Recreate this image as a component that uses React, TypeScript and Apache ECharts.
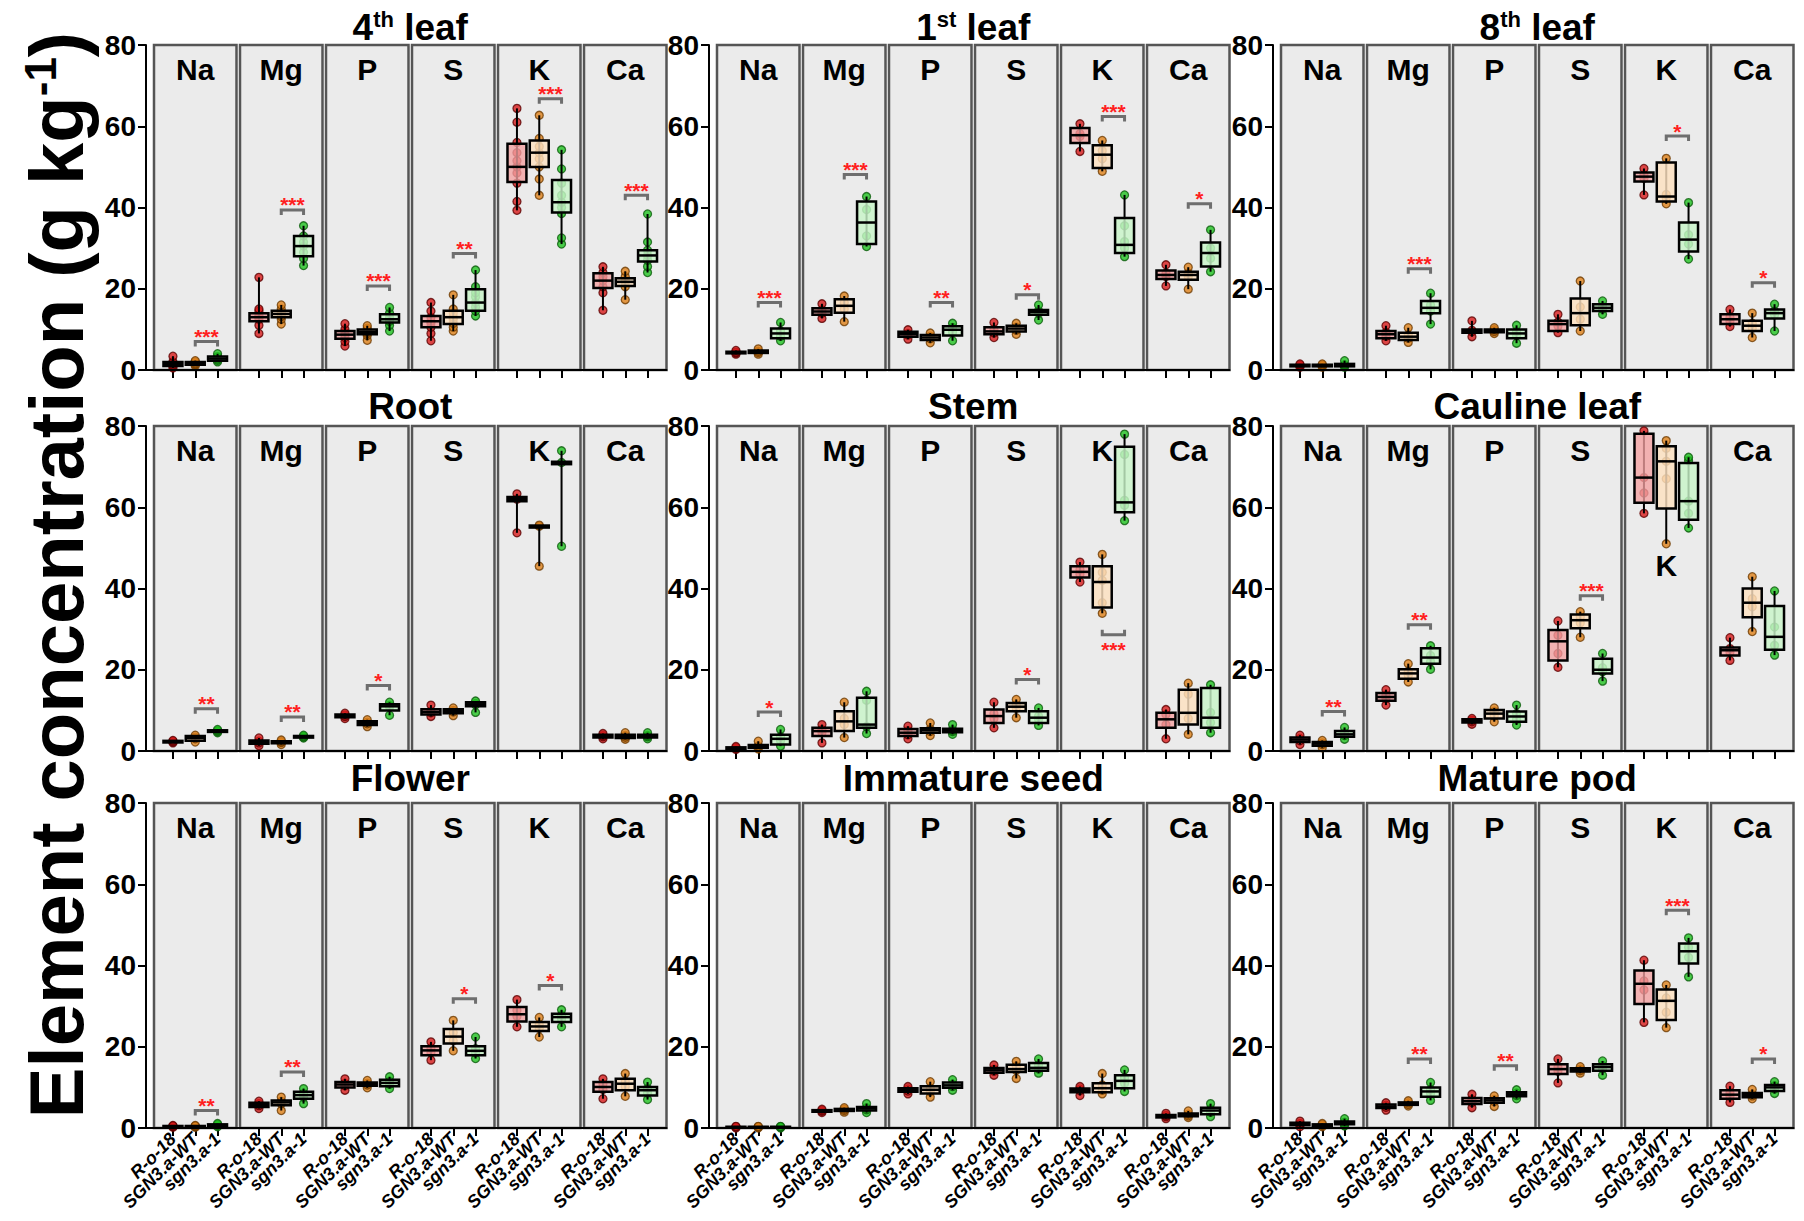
import React, { useEffect, useRef } from 'react';
import * as echarts from 'echarts';

const ELEMENTS = ['Na', 'Mg', 'P', 'S', 'K', 'Ca'];
const GENOTYPES = ['R-o-18', 'SGN3.a-WT', 'sgn3.a-1'];
const TISSUES = ['4{sup|th} leaf', '1{sup|st} leaf', '8{sup|th} leaf', 'Root', 'Stem', 'Cauline leaf', 'Flower', 'Immature seed', 'Mature pod'];
const Y_MIN = 0;
const Y_MAX = 80;
const Y_STEP = 20;
const Y_TITLE = 'Element concentration (g kg{sup|-1})';

// box stats: [element][genotype] = [min, q1, median, q3, max]
const leaf4Box = [
  [[0.5, 1.0, 1.5, 2.0, 3.4], [1.0, 1.3, 1.6, 2.0, 2.3], [2.0, 2.3, 2.8, 3.3, 4.0]],
  [[9.0, 12.0, 13.0, 14.0, 22.8], [11.3, 13.0, 13.8, 14.6, 16.0], [25.7, 28.0, 30.5, 33.0, 35.5]],
  [[5.9, 7.7, 8.7, 9.6, 11.4], [7.3, 8.8, 9.4, 10.0, 10.9], [9.6, 11.7, 12.5, 13.7, 15.4]],
  [[7.2, 10.5, 12.0, 13.3, 16.6], [9.6, 11.3, 13.0, 14.6, 18.5], [13.3, 14.6, 16.6, 19.9, 24.6]],
  [[39.3, 46.3, 50.0, 55.7, 64.4], [43.0, 50.0, 53.5, 56.5, 62.7], [31.0, 38.8, 41.3, 46.8, 54.2]],
  [[14.7, 20.2, 22.0, 23.8, 25.4], [17.3, 20.7, 21.7, 22.6, 24.3], [24.0, 26.7, 28.2, 29.5, 38.4]],
];
const leaf4Pts = [
  [[0.5, 0.9, 1.2, 1.5, 1.8, 2.0, 3.4], [1.0, 1.3, 1.5, 1.7, 2.0, 2.3], [2.0, 2.4, 2.7, 3.0, 3.3, 4.0]],
  [[9.0, 11.0, 12.5, 13.0, 13.5, 14.5, 15.0, 22.8], [11.3, 12.5, 13.2, 13.8, 14.3, 15.0, 16.0], [25.7, 27.5, 29.0, 30.5, 31.5, 33.0, 35.5]],
  [[5.9, 7.0, 8.0, 8.7, 9.3, 10.0, 11.4], [7.3, 8.5, 9.0, 9.4, 9.8, 10.3, 10.9], [9.6, 11.0, 12.0, 12.5, 13.0, 14.0, 15.4]],
  [[7.2, 9.0, 10.5, 11.5, 12.0, 13.0, 14.5, 16.6], [9.6, 10.5, 11.5, 12.5, 13.0, 14.0, 15.0, 18.5], [13.3, 14.5, 15.5, 16.6, 18.0, 19.0, 20.5, 24.6]],
  [[39.3, 41.5, 46.0, 48.5, 50.0, 51.5, 53.5, 56.0, 61.0, 64.4], [43.0, 47.0, 50.0, 52.0, 53.5, 55.0, 57.0, 62.7], [31.0, 32.5, 38.5, 40.0, 41.3, 43.0, 46.0, 49.5, 54.2]],
  [[14.7, 19.0, 20.5, 22.0, 23.0, 24.0, 25.4], [17.3, 20.5, 21.5, 22.0, 23.0, 24.3], [24.0, 25.5, 27.0, 28.2, 29.5, 31.5, 38.4]],
];
const leaf4Sig = [[0, '***', 7.0, 0], [1, '***', 39.4, 0], [2, '***', 20.7, 0], [3, '**', 28.7, 0], [4, '***', 66.8, 0], [5, '***', 43.0, 0]];

const leaf1Box = [
  [[3.9, 4.1, 4.3, 4.5, 4.8], [3.9, 4.2, 4.5, 4.8, 5.2], [7.2, 7.8, 9.0, 10.2, 11.7]],
  [[12.7, 13.6, 14.4, 15.2, 16.3], [11.9, 14.1, 15.8, 17.4, 18.2], [30.4, 31.0, 36.3, 41.5, 42.7]],
  [[7.6, 8.2, 8.8, 9.4, 9.9], [6.7, 7.4, 8.0, 8.6, 9.1], [7.2, 8.5, 9.9, 10.8, 11.5]],
  [[8.0, 8.8, 9.5, 10.5, 11.7], [8.8, 9.5, 10.2, 10.9, 11.5], [12.3, 13.6, 14.3, 14.8, 16.0]],
  [[53.8, 55.9, 57.8, 59.6, 60.6], [48.9, 49.7, 53.0, 55.3, 56.5], [27.9, 28.8, 30.8, 37.4, 43.1]],
  [[20.7, 22.4, 23.4, 24.5, 25.9], [19.9, 22.2, 23.4, 24.2, 25.3], [24.2, 25.5, 28.8, 31.4, 34.5]],
];
const leaf1Pts = [
  [[3.9, 4.2, 4.4, 4.8], [3.9, 4.3, 4.6, 5.2], [7.2, 8.3, 9.6, 11.7]],
  [[12.7, 14.0, 14.8, 16.3], [11.9, 15.0, 16.6, 18.2], [30.4, 33.0, 39.5, 42.7]],
  [[7.6, 8.6, 9.0, 9.9], [6.7, 7.7, 8.3, 9.1], [7.2, 9.3, 10.5, 11.5]],
  [[8.0, 9.1, 9.9, 11.7], [8.8, 9.8, 10.6, 11.5], [12.3, 14.0, 14.6, 16.0]],
  [[53.8, 57.5, 58.2, 60.6], [48.9, 52.0, 54.0, 56.5], [27.9, 30.0, 31.6, 35.5, 43.1]],
  [[20.7, 23.0, 23.8, 25.9], [19.9, 23.0, 23.8, 25.3], [24.2, 27.5, 30.0, 34.5]],
];
const leaf1Sig = [[0, '***', 16.6, 0], [1, '***', 48.1, 0], [2, '**', 16.6, 0], [3, '*', 18.5, 0], [4, '***', 62.4, 0], [5, '*', 40.9, 0]];

const leaf8Box = [
  [[0.7, 0.9, 1.1, 1.3, 1.5], [0.7, 0.9, 1.1, 1.3, 1.5], [0.7, 0.9, 1.2, 1.5, 2.3]],
  [[7.2, 7.8, 8.8, 9.6, 10.9], [6.8, 7.4, 8.2, 9.2, 10.4], [11.3, 14.0, 15.3, 17.0, 18.9]],
  [[8.2, 9.2, 9.6, 10.0, 12.1], [9.0, 9.3, 9.7, 10.0, 10.4], [6.6, 7.8, 9.0, 10.0, 11.0]],
  [[9.2, 9.6, 11.3, 12.1, 13.7], [9.6, 11.0, 14.0, 17.6, 21.9], [13.7, 14.5, 15.3, 16.2, 17.0]],
  [[43.1, 46.4, 47.6, 48.6, 49.6], [40.9, 41.5, 42.7, 51.1, 52.1], [27.3, 29.2, 32.1, 36.3, 41.2]],
  [[10.7, 11.3, 12.5, 13.7, 14.9], [8.0, 9.6, 10.9, 12.1, 14.0], [9.6, 12.7, 14.0, 14.9, 16.2]],
];
const leaf8Pts = [
  [[0.7, 1.0, 1.2, 1.5], [0.7, 1.0, 1.2, 1.5], [0.7, 1.0, 1.3, 2.3]],
  [[7.2, 8.3, 9.3, 10.9], [6.8, 7.8, 8.6, 10.4], [11.3, 14.5, 16.0, 18.9]],
  [[8.2, 9.4, 9.8, 12.1], [9.0, 9.5, 9.9, 10.4], [6.6, 8.5, 9.5, 11.0]],
  [[9.2, 10.8, 11.8, 13.7], [9.6, 12.5, 15.5, 21.9], [13.7, 15.0, 15.6, 17.0]],
  [[43.1, 47.2, 48.0, 49.6], [40.9, 42.3, 43.2, 52.1], [27.3, 31.0, 33.3, 41.2]],
  [[10.7, 12.0, 13.0, 14.9], [8.0, 10.3, 11.5, 14.0], [9.6, 13.6, 14.5, 16.2]],
];
const leaf8Sig = [[1, '***', 24.9, 0], [4, '*', 57.6, 0], [5, '*', 21.5, 0]];

const rootBox = [
  [[2.0, 2.1, 2.3, 2.5, 2.6], [2.2, 2.5, 3.2, 3.7, 3.9], [4.5, 4.7, 4.9, 5.1, 5.3]],
  [[1.3, 1.8, 2.2, 2.6, 3.2], [1.6, 1.9, 2.2, 2.4, 2.7], [3.2, 3.3, 3.5, 3.7, 3.9]],
  [[8.0, 8.3, 8.7, 9.0, 9.3], [6.0, 6.4, 6.9, 7.3, 7.7], [8.8, 10.0, 11.0, 11.5, 12.0]],
  [[8.5, 9.0, 9.6, 10.3, 11.3], [8.7, 9.3, 9.8, 10.3, 10.6], [9.5, 11.0, 11.5, 12.0, 12.3]],
  [[53.7, 61.5, 62.0, 62.5, 63.3], [45.5, 55.0, 55.3, 55.5, 55.6], [50.4, 70.6, 71.0, 71.2, 73.9]],
  [[3.0, 3.3, 3.6, 4.0, 4.3], [2.9, 3.2, 3.6, 4.0, 4.5], [3.0, 3.3, 3.6, 4.0, 4.5]],
];
const rootPts = [
  [[2.0, 2.2, 2.4, 2.6], [2.2, 3.0, 3.4, 3.9], [4.5, 4.8, 5.0, 5.3]],
  [[1.3, 2.0, 2.4, 3.2], [1.6, 2.1, 2.3, 2.7], [3.2, 3.4, 3.6, 3.9]],
  [[8.0, 8.5, 8.9, 9.3], [6.0, 6.7, 7.1, 7.7], [8.8, 10.8, 11.2, 12.0]],
  [[8.5, 9.4, 9.8, 11.3], [8.7, 9.6, 10.0, 10.6], [9.5, 11.3, 11.7, 12.3]],
  [[53.7, 62.0, 63.3], [45.5, 55.3, 55.6], [50.4, 71.0, 73.9]],
  [[3.0, 3.5, 3.8, 4.3], [2.9, 3.4, 3.8, 4.5], [3.0, 3.5, 3.8, 4.5]],
];
const rootSig = [[0, '**', 10.4, 0], [1, '**', 8.4, 0], [2, '*', 16.1, 0]];

const stemBox = [
  [[0.4, 0.5, 0.7, 0.9, 1.1], [0.5, 0.8, 1.1, 1.5, 2.4], [1.2, 1.6, 3.0, 4.0, 5.3]],
  [[2.0, 3.7, 4.9, 5.7, 6.5], [3.3, 4.9, 7.3, 9.8, 12.0], [4.3, 5.7, 6.5, 13.1, 14.7]],
  [[3.0, 3.7, 4.5, 5.4, 6.1], [3.8, 4.5, 5.1, 5.6, 6.9], [4.1, 4.6, 5.0, 5.5, 6.5]],
  [[5.7, 6.9, 8.6, 10.2, 12.0], [8.2, 9.8, 10.9, 11.8, 12.7], [6.3, 6.9, 8.2, 9.8, 10.6]],
  [[41.6, 42.7, 44.1, 45.5, 46.5], [33.9, 35.3, 41.6, 45.5, 48.4], [56.7, 58.8, 61.2, 74.9, 78.0]],
  [[3.0, 5.7, 7.8, 9.4, 10.2], [4.1, 6.5, 9.4, 15.1, 16.7], [4.5, 5.7, 8.2, 15.5, 16.3]],
];
const stemPts = [
  [[0.4, 0.6, 0.8, 1.1], [0.5, 1.0, 1.2, 2.4], [1.2, 2.5, 3.5, 5.3]],
  [[2.0, 4.5, 5.3, 6.5], [3.3, 6.5, 8.0, 12.0], [4.3, 6.0, 12.5, 14.7]],
  [[3.0, 4.0, 5.0, 6.1], [3.8, 4.8, 5.4, 6.9], [4.1, 4.8, 5.2, 6.5]],
  [[5.7, 8.0, 9.2, 12.0], [8.2, 10.5, 11.3, 12.7], [6.3, 7.8, 8.6, 10.6]],
  [[41.6, 43.5, 44.7, 46.5], [33.9, 36.5, 42.0, 44.0, 48.4], [56.7, 60.5, 61.7, 73.0, 78.0]],
  [[3.0, 6.5, 9.0, 10.2], [4.1, 8.0, 14.0, 16.7], [4.5, 7.0, 9.5, 16.3]],
];
const stemSig = [[0, '*', 9.6, 0], [3, '*', 17.6, 0], [4, '***', 28.6, 1]];

const caulineBox = [
  [[1.6, 2.2, 2.8, 3.3, 3.9], [0.8, 1.3, 1.8, 2.2, 2.6], [2.9, 3.5, 4.1, 4.9, 5.8]],
  [[11.3, 12.4, 13.3, 14.3, 15.1], [17.0, 17.8, 19.1, 20.1, 21.5], [20.1, 21.5, 23.0, 25.3, 25.9]],
  [[6.6, 7.0, 7.4, 7.8, 8.0], [7.2, 8.0, 9.2, 10.1, 10.6], [6.4, 7.2, 8.5, 9.7, 11.3]],
  [[20.6, 22.3, 27.0, 29.8, 32.0], [28.0, 30.2, 32.2, 33.6, 34.3], [17.2, 19.1, 20.0, 22.7, 24.0]],
  [[58.5, 61.1, 67.3, 78.1, 78.8], [51.0, 59.7, 71.3, 75.0, 76.4], [54.9, 56.9, 61.5, 70.9, 72.3]],
  [[22.3, 23.5, 24.8, 25.5, 27.9], [29.4, 32.9, 36.5, 40.0, 42.9], [23.6, 24.9, 28.1, 35.7, 39.4]],
];
const caulinePts = [
  [[1.6, 2.5, 3.1, 3.9], [0.8, 1.6, 2.0, 2.6], [2.9, 3.8, 4.4, 5.8]],
  [[11.3, 12.9, 13.7, 15.1], [17.0, 18.6, 19.6, 21.5], [20.1, 22.0, 23.5, 25.9]],
  [[6.6, 7.2, 7.6, 8.0], [7.2, 8.6, 9.8, 10.6], [6.4, 7.8, 9.2, 11.3]],
  [[20.6, 24.0, 28.5, 32.0], [28.0, 31.5, 33.0, 34.3], [17.2, 19.5, 20.5, 24.0]],
  [[58.5, 63.5, 67.3, 78.8], [51.0, 67.0, 71.3, 74.5, 76.4], [54.9, 58.5, 61.5, 71.5, 72.3]],
  [[22.3, 24.3, 25.2, 27.9], [29.4, 35.5, 37.5, 42.9], [23.6, 26.0, 30.5, 39.4]],
];
const caulineSig = [[0, '**', 9.7, 0], [1, '**', 31.1, 0], [3, '***', 38.2, 0]];

const flowerBox = [
  [[0.2, 0.3, 0.4, 0.5, 0.6], [0.2, 0.3, 0.4, 0.5, 0.6], [0.3, 0.5, 0.7, 0.9, 1.1]],
  [[4.8, 5.2, 5.7, 6.2, 6.6], [4.3, 5.6, 6.3, 6.8, 7.6], [6.0, 7.2, 8.1, 8.9, 9.7]],
  [[9.3, 10.0, 10.7, 11.3, 12.1], [9.9, 10.4, 10.8, 11.2, 11.7], [9.7, 10.3, 11.1, 11.9, 12.6]],
  [[16.7, 17.9, 19.1, 20.1, 21.2], [19.0, 20.8, 22.5, 24.4, 26.5], [17.1, 17.9, 19.0, 20.1, 22.4]],
  [[24.9, 26.2, 28.0, 29.8, 31.6], [22.4, 23.9, 25.0, 26.1, 27.2], [24.9, 26.1, 27.3, 28.1, 29.1]],
  [[7.2, 8.9, 10.1, 11.3, 12.1], [7.8, 9.3, 10.9, 12.1, 13.4], [7.0, 8.0, 9.3, 10.1, 11.3]],
];
const flowerPts = [
  [[0.2, 0.4, 0.5, 0.6], [0.2, 0.4, 0.5, 0.6], [0.3, 0.6, 0.8, 1.1]],
  [[4.8, 5.5, 6.0, 6.6], [4.3, 6.0, 6.6, 7.6], [6.0, 7.6, 8.5, 9.7]],
  [[9.3, 10.4, 11.0, 12.1], [9.9, 10.6, 11.0, 11.7], [9.7, 10.8, 11.5, 12.6]],
  [[16.7, 18.5, 19.7, 21.2], [19.0, 21.5, 23.5, 26.5], [17.1, 18.5, 19.5, 22.4]],
  [[24.9, 27.5, 29.0, 31.6], [22.4, 24.5, 25.5, 27.2], [24.9, 26.8, 27.8, 29.1]],
  [[7.2, 9.5, 10.8, 12.1], [7.8, 10.2, 11.5, 13.4], [7.0, 8.6, 9.8, 11.3]],
];
const flowerSig = [[0, '**', 4.3, 0], [1, '**', 13.8, 0], [3, '*', 31.8, 0], [4, '*', 35.1, 0]];

const seedBox = [
  [[0.0, 0.1, 0.2, 0.3, 0.4], [0.0, 0.1, 0.2, 0.3, 0.4], [0.0, 0.1, 0.2, 0.3, 0.4]],
  [[3.8, 4.0, 4.2, 4.4, 4.6], [3.9, 4.2, 4.4, 4.7, 5.0], [3.8, 4.3, 4.8, 5.2, 6.0]],
  [[8.4, 8.9, 9.3, 9.8, 10.2], [7.6, 8.5, 9.4, 10.3, 11.4], [9.3, 9.9, 10.5, 11.2, 11.9]],
  [[13.0, 13.6, 14.2, 14.8, 15.5], [12.2, 13.8, 14.5, 15.6, 16.4], [13.5, 14.1, 14.8, 16.0, 17.0]],
  [[8.0, 8.8, 9.4, 9.7, 10.2], [8.4, 8.8, 9.8, 11.0, 13.4], [9.0, 9.8, 11.6, 13.0, 14.3]],
  [[2.3, 2.6, 2.9, 3.2, 3.6], [2.6, 2.9, 3.2, 3.6, 4.2], [2.8, 3.4, 4.3, 5.0, 6.0]],
];
const seedPts = [
  [[0.0, 0.2, 0.3, 0.4], [0.0, 0.2, 0.3, 0.4], [0.0, 0.2, 0.3, 0.4]],
  [[3.8, 4.1, 4.3, 4.6], [3.9, 4.3, 4.6, 5.0], [3.8, 4.5, 5.0, 6.0]],
  [[8.4, 9.1, 9.6, 10.2], [7.6, 9.0, 9.8, 11.4], [9.3, 10.2, 10.8, 11.9]],
  [[13.0, 14.0, 14.5, 15.5], [12.2, 14.2, 15.2, 16.4], [13.5, 14.5, 15.5, 17.0]],
  [[8.0, 9.2, 9.6, 10.2], [8.4, 9.3, 10.6, 13.4], [9.0, 11.0, 12.3, 14.3]],
  [[2.3, 2.8, 3.1, 3.6], [2.6, 3.0, 3.4, 4.2], [2.8, 3.9, 4.7, 6.0]],
];
const seedSig: any[] = [];

const podBox = [
  [[0.3, 0.7, 1.0, 1.3, 1.7], [0.3, 0.5, 0.7, 0.9, 1.1], [0.5, 0.9, 1.2, 1.6, 2.3]],
  [[4.4, 4.9, 5.3, 5.8, 6.2], [5.4, 5.7, 6.0, 6.3, 6.7], [6.8, 7.7, 9.0, 10.0, 11.2]],
  [[5.0, 5.9, 6.6, 7.4, 8.3], [5.3, 6.2, 6.8, 7.3, 7.9], [7.2, 7.8, 8.3, 8.8, 9.4]],
  [[11.1, 13.3, 14.5, 15.7, 17.0], [13.5, 13.9, 14.3, 14.7, 15.1], [13.0, 14.1, 15.0, 15.7, 16.5]],
  [[26.0, 30.5, 35.5, 38.8, 41.3], [24.7, 26.6, 31.3, 34.1, 35.2], [37.2, 40.5, 43.5, 45.4, 46.8]],
  [[6.3, 7.2, 8.2, 9.3, 10.3], [7.2, 7.6, 8.1, 8.6, 9.5], [8.5, 9.1, 10.0, 10.6, 11.4]],
];
const podPts = [
  [[0.3, 0.9, 1.1, 1.7], [0.3, 0.6, 0.8, 1.1], [0.5, 1.0, 1.4, 2.3]],
  [[4.4, 5.1, 5.6, 6.2], [5.4, 5.8, 6.2, 6.7], [6.8, 8.5, 9.5, 11.2]],
  [[5.0, 6.3, 7.0, 8.3], [5.3, 6.5, 7.0, 7.9], [7.2, 8.0, 8.6, 9.4]],
  [[11.1, 14.0, 15.0, 17.0], [13.5, 14.1, 14.5, 15.1], [13.0, 14.6, 15.4, 16.5]],
  [[26.0, 34.0, 36.2, 41.3], [24.7, 28.5, 32.0, 35.2], [37.2, 42.0, 44.5, 46.8]],
  [[6.3, 7.8, 8.7, 10.3], [7.2, 7.9, 8.3, 9.5], [8.5, 9.6, 10.4, 11.4]],
];
const podSig = [[1, '**', 17.0, 0], [2, '**', 15.3, 0], [4, '***', 53.6, 0], [5, '*', 17.0, 0]];

// element label placed at a data value instead of the panel top: [tissue, element, value]
const LABEL_AT = [[5, 4, 45.6]];

const TISSUE_BOX = [leaf4Box, leaf1Box, leaf8Box, rootBox, stemBox, caulineBox, flowerBox, seedBox, podBox];
const TISSUE_PTS = [leaf4Pts, leaf1Pts, leaf8Pts, rootPts, stemPts, caulinePts, flowerPts, seedPts, podPts];
const TISSUE_SIG = [leaf4Sig, leaf1Sig, leaf8Sig, rootSig, stemSig, caulineSig, flowerSig, seedSig, podSig];

// layout / style
const FONT = "'Liberation Sans', Arial, Helvetica, sans-serif";
const PANEL_X = [154, 717, 1281];
const ROW_Y = [45, 426, 803];
const TITLE_Y = [27, 406, 778];
const ROW_H = 325;
const SUB_W = 82.5;
const SUB_STEP = 86;
const PANEL_W = SUB_STEP * 5 + SUB_W;
const X_MIN = -0.85;
const X_MAX = 2.85;
const BOX_W = 0.85;
const PT_FILL = ['#d81b1b', '#e0821a', '#22c422'];
const PT_EDGE = ['#5c0000', '#6e3b00', '#0b5c0b'];
const BOX_FILL = ['rgba(244,160,160,0.78)', 'rgba(253,224,192,0.82)', 'rgba(200,244,200,0.82)'];

export default function App() {
  const ref = useRef<HTMLDivElement>(null);
  useEffect(() => {
    const chart = echarts.init(ref.current!, null, { renderer: 'svg' });
    const grid: any[] = [];
    const xAxis: any[] = [];
    const yAxis: any[] = [];
    const series: any[] = [];
    const graphic: any[] = [];

    graphic.push({
      type: 'text', x: 56, y: 575, rotation: Math.PI / 2, z: 10,
      style: {
        legacy: false, text: Y_TITLE, fill: '#000', fontSize: 76, fontWeight: 'bold', fontFamily: FONT,
        align: 'center', verticalAlign: 'middle',
        rich: { sup: { fontSize: 44, fontWeight: 'bold', fontFamily: FONT, fill: '#000', verticalAlign: 'top' } },
      },
    });

    TISSUES.forEach((tname, ti) => {
      const col = ti % 3;
      const row = Math.floor(ti / 3);
      const px = PANEL_X[col];
      const py = ROW_Y[row];
      const boxes = TISSUE_BOX[ti];
      const pts = TISSUE_PTS[ti];
      const sigs = TISSUE_SIG[ti];

      graphic.push({
        type: 'text', x: px + PANEL_W / 2, y: TITLE_Y[row], z: 10,
        style: {
          legacy: false, text: tname, fill: '#000', fontSize: 37, fontWeight: 'bold', fontFamily: FONT,
          align: 'center', verticalAlign: 'middle',
          rich: { sup: { fontSize: 22, fontWeight: 'bold', fontFamily: FONT, fill: '#000', verticalAlign: 'top' } },
        },
      });

      // frame grid holding the shared y axis and base line
      const fi = grid.length;
      grid.push({ left: px - 8, top: py, width: PANEL_W + 8, height: ROW_H, show: false });
      xAxis.push({
        gridIndex: fi, type: 'value', min: 0, max: 1, z: 5,
        axisLine: { show: true, onZero: false, lineStyle: { color: '#000', width: 2 } },
        axisTick: { show: false }, axisLabel: { show: false }, splitLine: { show: false },
      });
      yAxis.push({
        gridIndex: fi, type: 'value', min: Y_MIN, max: Y_MAX, interval: Y_STEP, z: 5,
        axisLine: { show: true, lineStyle: { color: '#000', width: 2 } },
        axisTick: { show: true, length: 8, lineStyle: { color: '#000', width: 2 } },
        axisLabel: { show: true, margin: 10, fontSize: 28, fontWeight: 'bold', fontFamily: FONT, color: '#000' },
        splitLine: { show: false },
      });

      ELEMENTS.forEach((el, ei) => {
        const gi = grid.length;
        const left = px + ei * SUB_STEP;
        grid.push({
          left, top: py, width: SUB_W, height: ROW_H, show: true,
          backgroundColor: '#ebebeb', borderColor: '#555555', borderWidth: 2.5,
        });
        const mainX = xAxis.length;
        xAxis.push({
          gridIndex: gi, type: 'value', min: X_MIN, max: X_MAX, position: 'bottom',
          axisLine: { show: false }, splitLine: { show: false },
          axisTick: { show: true, customValues: [0, 1, 2], length: 8, lineStyle: { color: '#000', width: 2 } },
          axisLabel: { show: false },
        });
        // one label axis per genotype on the bottom row (keeps every rotated label visible)
        if (row === 2) {
          GENOTYPES.forEach((gname, g) => {
            xAxis.push({
              gridIndex: gi, type: 'value', min: X_MIN, max: X_MAX, position: 'bottom',
              axisLine: { show: false }, splitLine: { show: false }, axisTick: { show: false },
              axisLabel: {
                show: true, customValues: [g], rotate: 45, margin: 8,
                showMinLabel: true, showMaxLabel: true,
                formatter: () => gname,
                fontSize: 18, fontWeight: 'bold', fontStyle: 'italic', fontFamily: FONT, color: '#000',
              },
            });
          });
        }
        const yi = yAxis.length;
        yAxis.push({ gridIndex: gi, type: 'value', min: Y_MIN, max: Y_MAX, show: false, splitLine: { show: false } });

        const override = LABEL_AT.find((l) => l[0] === ti && l[1] === ei);
        const labelY = override ? py + ((Y_MAX - override[2]) / (Y_MAX - Y_MIN)) * ROW_H : py + 24;
        graphic.push({
          type: 'text', x: left + SUB_W / 2, y: labelY, z: 10,
          style: {
            legacy: false, text: el, fill: '#000', fontSize: 30, fontWeight: 'bold', fontFamily: FONT,
            align: 'center', verticalAlign: 'middle', lineHeight: 26,
          },
        });

        const scatterData: any[] = [];
        [0, 1, 2].forEach((g) => {
          pts[ei][g].forEach((v: number) => {
            scatterData.push({ value: [g, v], itemStyle: { color: PT_FILL[g], borderColor: PT_EDGE[g], borderWidth: 1.3 } });
          });
        });
        series.push({
          type: 'scatter', xAxisIndex: mainX, yAxisIndex: yi, symbolSize: 8, silent: true, z: 2,
          data: scatterData,
        });

        series.push({
          type: 'custom', xAxisIndex: mainX, yAxisIndex: yi, silent: true, z: 3,
          data: [0, 1, 2].map((g) => [g, ...boxes[ei][g]]),
          encode: { x: 0, y: [1, 2, 3, 4, 5] },
          renderItem: (params: any, api: any) => {
            const g = api.value(0);
            const lo = api.coord([g, api.value(1)]);
            const q1 = api.coord([g, api.value(2)]);
            const md = api.coord([g, api.value(3)]);
            const q3 = api.coord([g, api.value(4)]);
            const hi = api.coord([g, api.value(5)]);
            const hw = api.size([BOX_W, 0], [g, 0])[0] / 2;
            return {
              type: 'group',
              children: [
                { type: 'line', shape: { x1: lo[0], y1: lo[1], x2: hi[0], y2: hi[1] }, style: { stroke: '#000', lineWidth: 2 } },
                {
                  type: 'rect',
                  shape: { x: q3[0] - hw, y: q3[1], width: hw * 2, height: Math.max(q1[1] - q3[1], 1) },
                  style: { fill: BOX_FILL[g], stroke: '#000', lineWidth: 2.5 },
                },
                { type: 'line', shape: { x1: md[0] - hw, y1: md[1], x2: md[0] + hw, y2: md[1] }, style: { stroke: '#000', lineWidth: 2.5 } },
              ],
            };
          },
        });

        const mySigs = sigs.filter((s: any) => s[0] === ei);
        if (mySigs.length) {
          series.push({
            type: 'custom', xAxisIndex: mainX, yAxisIndex: yi, silent: true, z: 4,
            data: mySigs.map((s: any) => [1, 2, s[2], s[3]]),
            encode: { x: [0, 1], y: 2 },
            renderItem: (params: any, api: any) => {
              const a = api.coord([api.value(0), api.value(2)]);
              const b = api.coord([api.value(1), api.value(2)]);
              const flip = api.value(3) ? -1 : 1;
              const h = 5 * flip;
              const stars = mySigs[params.dataIndex][1];
              return {
                type: 'group',
                children: [
                  {
                    type: 'polyline',
                    shape: { points: [[a[0], a[1] + h], [a[0], a[1]], [b[0], b[1]], [b[0], b[1] + h]] },
                    style: { stroke: '#6e6e6e', lineWidth: 3, fill: 'none' },
                  },
                  {
                    type: 'text', x: (a[0] + b[0]) / 2, y: flip > 0 ? a[1] - 5 : a[1] + 15,
                    style: {
                      legacy: false, text: stars, fill: '#ff1f1f', fontSize: 21, fontWeight: 'bold', fontFamily: FONT,
                      align: 'center', verticalAlign: 'middle', lineHeight: 10,
                    },
                  },
                ],
              };
            },
          });
        }
      });
    });

    chart.setOption({
      animation: false,
      backgroundColor: '#ffffff',
      textStyle: { fontFamily: FONT },
      grid, xAxis, yAxis, series, graphic,
    });
    return () => chart.dispose();
  }, []);
  return <div ref={ref} style={{ position: 'fixed', left: 0, top: 0, width: 1804, height: 1221 }} />;
}
